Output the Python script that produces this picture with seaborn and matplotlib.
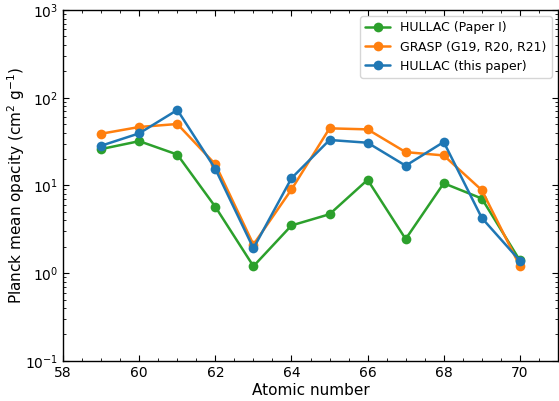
import matplotlib
matplotlib.use("Agg")
import matplotlib.pyplot as plt
import seaborn as sns
import pandas as pd
from matplotlib.ticker import AutoMinorLocator, LogLocator, NullFormatter

atomic_number = [59, 60, 61, 62, 63, 64, 65, 66, 67, 68, 69, 70]
hullac_paper1 = [26.0, 32.0, 22.5, 5.7, 1.2, 3.5, 4.7, 11.6, 2.45, 10.6, 7.1, 1.4]
grasp = [38.9, 46.4, 50.2, 17.4, 2.12, 9.0, 44.8, 43.6, 24.0, 22.0, 8.85, 1.21]
hullac_this = [28.4, 39.3, 72.6, 15.4, 1.92, 12.1, 33.0, 30.7, 16.8, 31.3, 4.27, 1.39]

labels = ["HULLAC (Paper I)", "GRASP (G19, R20, R21)", "HULLAC (this paper)"]
colors = ["#2ca02c", "#ff7f0e", "#1f77b4"]

rows = []
for lab, vals in zip(labels, [hullac_paper1, grasp, hullac_this]):
    for z, v in zip(atomic_number, vals):
        rows.append({"Z": z, "kappa": v, "series": lab})
df = pd.DataFrame(rows)

sns.set_style("ticks", {"text.color": "black", "axes.labelcolor": "black",
                        "xtick.color": "black", "ytick.color": "black",
                        "axes.edgecolor": "black"})
plt.rcParams["font.family"] = ["DejaVu Sans"]

fig = plt.figure(figsize=(5.59, 4.01), dpi=100)
ax = fig.add_axes([0.113, 0.1, 0.885, 0.875])

sns.lineplot(data=df, x="Z", y="kappa", hue="series", hue_order=labels,
             palette=colors, marker="o", markersize=7, markeredgewidth=0,
             linewidth=1.8, ax=ax)

ax.set_yscale("log")
ax.set_ylim(0.1, 1000)
ax.set_xlim(58, 71)
ax.set_xticks([58, 60, 62, 64, 66, 68, 70])
ax.xaxis.set_minor_locator(AutoMinorLocator(4))
ax.yaxis.set_major_locator(LogLocator(base=10, numticks=10))
ax.yaxis.set_minor_locator(LogLocator(base=10, subs=range(2, 10), numticks=20))
ax.yaxis.set_minor_formatter(NullFormatter())
ax.tick_params(which="both", direction="in", top=True, right=True, labelsize=10)
ax.tick_params(which="major", length=4)
ax.tick_params(which="minor", length=2)
for s in ax.spines.values():
    s.set_linewidth(1.0)

ax.set_xlabel("Atomic number", fontsize=11, labelpad=2)
ax.set_ylabel("Planck mean opacity (cm$^2$ g$^{-1}$)", fontsize=11, labelpad=-1)
leg = ax.legend(loc="upper right", fontsize=9, frameon=True)

fig.savefig("out.png", dpi=100)
